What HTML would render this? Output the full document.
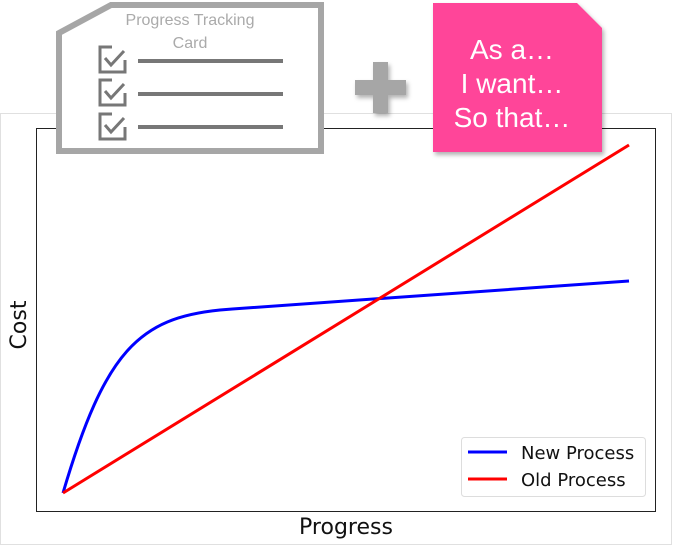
<!DOCTYPE html>
<html><head><style>
body{margin:0;width:673px;height:546px;background:#fff;overflow:hidden;}
svg{display:block;font-family:"DejaVu Sans","Liberation Sans",sans-serif;}
</style></head><body>
<svg width="673" height="546" viewBox="0 0 673 546">
<defs><filter id="sh" x="-20%" y="-20%" width="150%" height="150%"><feDropShadow dx="2" dy="3" stdDeviation="2" flood-color="#000" flood-opacity="0.3"/></filter></defs>
<rect x="0.5" y="113.5" width="671" height="431" fill="#fff" stroke="#e0e0e0"/>
<rect x="36.5" y="128.5" width="619" height="383" fill="#fff" stroke="#222" stroke-width="1"/>
<path d="M63,493 C105,350 140,318 220,310 C280,305 320,303 629,281" fill="none" stroke="#0000ff" stroke-width="3"/>
<line x1="63" y1="493" x2="629" y2="145" stroke="#ff0000" stroke-width="3"/>
<rect x="461.5" y="437.5" width="184" height="59" rx="3" fill="#fff" stroke="#ddd"/>
<line x1="468" y1="452" x2="507" y2="452" stroke="#0000ff" stroke-width="3"/>
<line x1="468" y1="479" x2="507" y2="479" stroke="#ff0000" stroke-width="3"/>
<text x="521" y="459" font-size="18" fill="#111">New Process</text>
<text x="521" y="486" font-size="18" fill="#111">Old Process</text>
<text x="346" y="534" font-size="22" fill="#111" text-anchor="middle">Progress</text>
<text transform="translate(26,325) rotate(-90)" font-size="22" fill="#111" text-anchor="middle">Cost</text>
<polygon points="59,33 111,5 321,5 321,151 59,151" fill="#fff" stroke="#a6a6a6" stroke-width="6"/>
<text x="190" y="25" font-family="Liberation Sans,sans-serif" font-size="16" fill="#aaa" text-anchor="middle">Progress Tracking</text>
<text x="190" y="48" font-family="Liberation Sans,sans-serif" font-size="16" fill="#aaa" text-anchor="middle">Card</text>
<g fill="none" stroke="#777" stroke-width="3">
<path d="M125,60 V72 H100 V47 H112"/><path d="M105,58 L111,65 L124,51"/>
<path d="M125,93 V105 H100 V80 H112"/><path d="M105,91 L111,98 L124,84"/>
<path d="M125,127 V139 H100 V114 H112"/><path d="M105,125 L111,132 L124,118"/>
</g>
<g stroke="#777" stroke-width="4"><line x1="138" y1="61" x2="283" y2="61"/><line x1="138" y1="94" x2="283" y2="94"/><line x1="138" y1="127" x2="283" y2="127"/></g>
<path d="M373,62 h15 v18 h18 v15 h-18 v18 h-15 v-18 h-18 v-15 h18 z" fill="#a6a6a6" filter="url(#sh)"/>
<polygon points="433,3 577,3 602,28 602,152 433,152" fill="#ff4499" filter="url(#sh)"/>
<g font-family="Liberation Sans,sans-serif" font-size="28" fill="#fff" text-anchor="middle">
<text x="512" y="59">As a…</text><text x="512" y="93">I want…</text><text x="512" y="127">So that…</text></g>
</svg>
</body></html>
